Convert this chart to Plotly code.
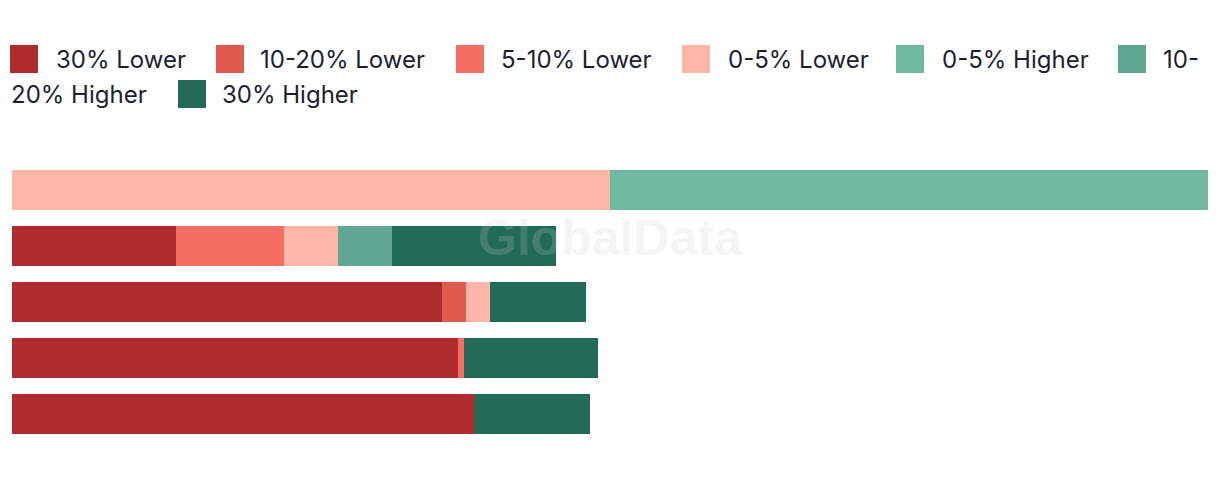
import plotly.graph_objects as go

# ---- data ----
categories = ["Row 1", "Row 2", "Row 3", "Row 4", "Row 5"]
series_names = ["30% Lower", "10-20% Lower", "5-10% Lower", "0-5% Lower",
                "0-5% Higher", "10-20% Higher", "30% Higher"]
lower_30 = [0, 13.71, 35.95, 37.29, 38.63]
lower_10_20 = [0, 0, 2.01, 0, 0]
lower_5_10 = [0, 9.03, 0, 0.50, 0]
lower_0_5 = [50.0, 4.52, 2.01, 0, 0]
higher_0_5 = [50.0, 0, 0, 0, 0]
higher_10_20 = [0, 4.52, 0, 0, 0]
higher_30 = [0, 13.71, 8.03, 11.20, 9.70]
series_values = [lower_30, lower_10_20, lower_5_10, lower_0_5,
                 higher_0_5, higher_10_20, higher_30]
colors = ["#B02C2F", "#E05A4F", "#F46E63", "#FFB5A7",
          "#70B9A0", "#5FA58F", "#216B57"]

# ---- layout constants ----
W, H = 1220, 478
ML, MR, MT, MB = 12, 12, 162, 36
PW, PH = W - ML - MR, H - MT - MB
TEXT_COLOR = "#1e1e32"
FONT = "Inter, Roboto, Arial, sans-serif"


def px_x(x):
    return (x - ML) / PW


def px_y(y):
    return (H - MB - y) / PH


fig = go.Figure()
for name, vals, col in zip(series_names, series_values, colors):
    fig.add_trace(go.Bar(
        y=categories, x=vals, name=name, orientation="h",
        marker=dict(color=col, line=dict(width=0)),
        showlegend=False, hoverinfo="x+name",
    ))

# ---- custom legend (swatch px x, text px x, row) ----
legend_rows_y = [59, 94]
legend_entries = [
    # (series index, swatch x, row, [(text, text x, row), ...])
    (0, 10, 0, [("30% Lower", 55, 0)]),
    (1, 216, 0, [("10-20% Lower", 259, 0)]),
    (2, 456, 0, [("5-10% Lower", 500, 0)]),
    (3, 682, 0, [("0-5% Lower", 727, 0)]),
    (4, 896, 0, [("0-5% Higher", 941, 0)]),
    (5, 1118, 0, [("10-", 1162, 0), ("20% Higher", 10, 1)]),
    (6, 178, 1, [("30% Higher", 221, 1)]),
]
SW = 28
shapes = []
annotations = []
for idx, sx, row, texts in legend_entries:
    cy = legend_rows_y[row]
    shapes.append(dict(
        type="rect", xref="paper", yref="paper",
        x0=px_x(sx), x1=px_x(sx + SW),
        y0=px_y(cy + SW / 2), y1=px_y(cy - SW / 2),
        fillcolor=colors[idx], line=dict(width=0), layer="above",
    ))
    for t, tx, trow in texts:
        annotations.append(dict(
            text=t, xref="paper", yref="paper",
            x=px_x(tx), y=px_y(legend_rows_y[trow]),
            xanchor="left", yanchor="middle", showarrow=False,
            font=dict(family=FONT, size=24, color=TEXT_COLOR),
            borderpad=0,
        ))

# watermark
annotations.append(dict(
    text="<b>GlobalData</b>", xref="paper", yref="paper",
    x=0.5, y=px_y(238), xanchor="center", yanchor="middle",
    showarrow=False,
    font=dict(family="Liberation Sans, Arial, sans-serif", size=50,
              color="rgba(205,205,205,0.2)"),
))

fig.update_layout(
    width=W, height=H,
    margin=dict(l=ML, r=MR, t=MT, b=MB, pad=0),
    barmode="stack", bargap=16 / 56,
    plot_bgcolor="white", paper_bgcolor="white",
    showlegend=False,
    xaxis=dict(range=[0, 100], visible=False, fixedrange=True),
    yaxis=dict(categoryorder="array", categoryarray=categories,
               autorange="reversed", visible=False, fixedrange=True),
    shapes=shapes, annotations=annotations,
)

fig.write_html("out.html", config={"displayModeBar": False})
